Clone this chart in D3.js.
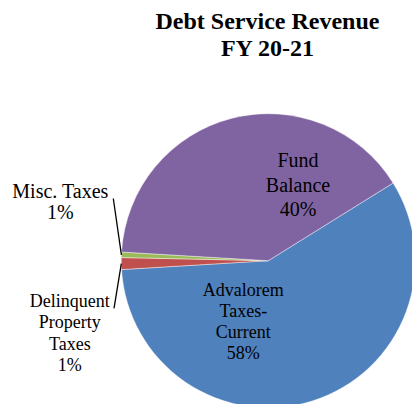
<!DOCTYPE html>
<html>
<head>
<meta charset="utf-8">
<script src="https://cdn.jsdelivr.net/npm/d3@7/dist/d3.min.js"></script>
<style>
  html, body { margin: 0; padding: 0; background: #fff; }
  svg { display: block; }
</style>
</head>
<body>
<svg id="chart" width="412" height="404"></svg>
<script>
// Revenue sources, in pie order (clockwise)
const categories = ["Advalorem Taxes-Current", "Delinquent Property Taxes", "Misc. Taxes", "Fund Balance"];
const shares = [57.9, 1.3, 0.6, 40.2];
const colors = ["#4F81BD", "#C0504D", "#9BBB59", "#8064A2"];
// Label text broken into lines (the percentage line is added from the data)
const labelLines = [
  ["Advalorem", "Taxes-", "Current"],
  ["Delinquent", "Property", "Taxes"],
  ["Misc. Taxes"],
  ["Fund", "Balance"]
];
const titleLines = ["Debt Service Revenue", "FY 20-21"];

const FONT = "Liberation Serif";
const svg = d3.select("#chart");
const cx = 268.3, cy = 260.7, R = 147;

// Title
svg.append("text")
  .style("font-family", FONT)
  .attr("text-anchor", "middle")
  .style("font-size", "24px").style("font-weight", "700")
  .selectAll("tspan").data(titleLines).join("tspan")
  .attr("x", 267.5)
  .attr("y", (d, i) => 29.3 + i * 27)
  .text(d => d);

const total = d3.sum(shares);
const startDeg = 58.1;
const pie = d3.pie().sort(null).value(d => d)
  .startAngle(startDeg * Math.PI / 180)
  .endAngle((startDeg + 360) * Math.PI / 180);
const arcs = pie(shares);
const arc = d3.arc().innerRadius(0).outerRadius(R);

const g = svg.append("g").attr("transform", `translate(${cx},${cy})`);
g.selectAll("path").data(arcs).join("path")
  .attr("d", arc)
  .attr("fill", (d, i) => colors[i])
  .attr("stroke", "#fff")
  .attr("stroke-width", 0.6)
  .attr("stroke-opacity", 0.7);

// Label placement (offsets from the pie centre, first baseline, line spacing, font size)
const labelLayout = [
  { dx: -25, y0: 295.7, step: 21, size: 18 },
  { dx: -198.5, y0: 306.7, step: 21.5, size: 18 },
  { dx: -208, y0: 198.3, step: 21, size: 20 },
  { dx: 29.7, y0: 167.3, step: 24.3, size: 20 }
];

const fmtPct = v => Math.round(v / total * 100) + "%";

labelLines.forEach((lines, i) => {
  const L = labelLayout[i];
  const all = lines.concat([fmtPct(shares[i])]);
  svg.append("text")
    .style("font-family", FONT)
    .style("font-weight", "400")
    .style("font-style", "normal")
    .attr("text-anchor", "middle")
    .style("font-size", L.size + "px")
    .attr("fill", "#000")
    .selectAll("tspan").data(all).join("tspan")
    .attr("x", cx + L.dx)
    .attr("y", (d, k) => L.y0 + k * L.step)
    .text(d => d);
});

// Leader lines from the two small slices to their outside labels
function edgePoint(a, r) {
  return [cx + r * Math.sin(a), cy - r * Math.cos(a)];
}
const leaders = [
  { slice: 2, from: [113.3, 198.5] },
  { slice: 1, from: [114, 308.3] }
];
leaders.forEach(l => {
  const a = arcs[l.slice];
  const p = edgePoint((a.startAngle + a.endAngle) / 2, R);
  svg.append("line")
    .attr("x1", l.from[0]).attr("y1", l.from[1])
    .attr("x2", p[0]).attr("y2", p[1])
    .attr("stroke", "#000").attr("stroke-width", 1.3);
});
</script>
</body>
</html>
